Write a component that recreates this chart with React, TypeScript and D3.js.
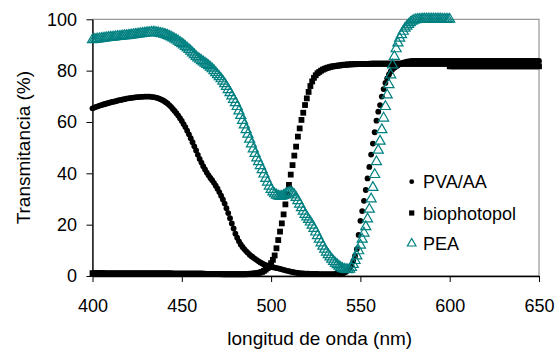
import React, { useEffect, useRef } from 'react';
import * as d3 from 'd3';

// Transmittance spectra, one value per nm starting at 400 nm
const WL_START = 400;

const PVA_AA = [
  65.3, 65.6, 65.9, 66.1, 66.4, 66.6, 66.8, 67.0, 67.2, 67.4,
  67.6, 67.8, 67.9, 68.1, 68.3, 68.5, 68.6, 68.8, 68.9, 69.1,
  69.2, 69.3, 69.4, 69.5, 69.6, 69.7, 69.7, 69.8, 69.8, 69.9,
  69.9, 69.9, 69.9, 69.8, 69.7, 69.6, 69.4, 69.2, 68.9, 68.6,
  68.2, 67.7, 67.2, 66.6, 65.9, 65.1, 64.3, 63.4, 62.5, 61.5,
  60.4, 59.2, 58.0, 56.6, 55.2, 53.7, 52.1, 50.5, 48.9, 47.2,
  45.6, 44.2, 42.8, 41.5, 40.3, 39.2, 38.2, 37.3, 36.3, 35.2,
  34.0, 32.7, 31.3, 29.8, 28.2, 26.4, 24.5, 22.5, 20.5, 18.5,
  16.5, 14.9, 13.5, 12.3, 11.3, 10.5, 9.7, 9.0, 8.3, 7.7,
  7.2, 6.7, 6.2, 5.7, 5.3, 4.9, 4.5, 4.2, 3.9, 3.7,
  3.5, 3.4, 3.3, 3.1, 3.0, 2.8, 2.6, 2.4, 2.2, 2.0,
  1.9, 1.7, 1.6, 1.4, 1.3, 1.2, 1.1, 1.0, 1.0, 0.9,
  0.9, 0.9, 0.8, 0.8, 0.8, 0.8, 0.8, 0.7, 0.7, 0.7,
  0.7, 0.7, 0.7, 0.7, 0.7, 0.7, 0.8, 0.8, 0.8, 0.9,
  1.0, 1.3, 1.7, 2.2, 3.0, 4.2, 5.8, 7.8, 10.5, 16.0,
  21.5, 25.3, 29.3, 33.5, 38.0, 42.5, 47.3, 51.6, 56.0, 60.5,
  64.0, 66.6, 69.9, 72.8, 75.2, 77.0, 78.5, 79.7, 80.5, 81.1,
  81.6, 82.1, 82.5, 82.8, 83.1, 83.3, 83.5, 83.6, 83.7, 83.8,
  83.8, 83.8, 83.8, 83.8, 83.8, 83.8, 83.8, 83.8, 83.8, 83.8,
  83.8, 83.8, 83.8, 83.8, 83.8, 83.8, 83.8, 83.8, 83.8, 83.8,
  83.8, 83.8, 83.8, 83.8, 83.8, 83.8, 83.8, 83.8, 83.8, 83.8,
  83.8, 83.8, 83.8, 83.8, 83.8, 83.8, 83.8, 83.8, 83.8, 83.8,
  83.8, 83.8, 83.8, 83.8, 83.8, 83.8, 83.8, 83.8, 83.8, 83.8,
  83.8, 83.8, 83.8, 83.8, 83.8, 83.8, 83.8, 83.8, 83.8, 83.8,
  83.8, 83.8, 83.8, 83.8, 83.8, 83.8, 83.8, 83.8, 83.8, 83.8,
  83.8,
];

const BIOPHOTOPOL = [
  1.1, 1.1, 1.1, 1.1, 1.1, 1.1, 1.1, 1.0, 1.0, 1.0,
  1.0, 1.0, 1.0, 1.0, 1.0, 1.0, 1.0, 1.0, 1.0, 1.0,
  1.0, 1.0, 1.0, 1.0, 1.0, 1.0, 1.0, 1.0, 1.0, 1.0,
  1.0, 1.0, 1.0, 1.0, 1.0, 1.0, 1.0, 1.0, 1.0, 1.0,
  1.0, 1.0, 1.0, 1.0, 1.0, 0.9, 0.9, 0.9, 0.9, 0.9,
  0.9, 0.9, 0.9, 0.9, 0.9, 0.9, 0.9, 0.9, 0.9, 0.9,
  0.9, 0.9, 0.9, 0.8, 0.8, 0.8, 0.8, 0.8, 0.8, 0.8,
  0.8, 0.8, 0.8, 0.7, 0.7, 0.7, 0.7, 0.7, 0.7, 0.7,
  0.7, 0.7, 0.7, 0.7, 0.7, 0.7, 0.7, 0.8, 0.8, 0.9,
  0.9, 1.0, 1.1, 1.2, 1.4, 1.6, 2.0, 2.5, 3.1, 4.0,
  5.0, 6.3, 8.0, 10.8, 14.0, 17.3, 20.5, 24.0, 27.9, 31.8,
  35.5, 39.5, 43.2, 46.9, 50.4, 54.3, 57.5, 60.8, 63.6, 66.6,
  69.2, 71.7, 74.0, 75.8, 77.2, 78.2, 79.0, 79.5, 80.0, 80.4,
  80.7, 81.0, 81.2, 81.4, 81.6, 81.7, 81.8, 81.9, 82.0, 82.1,
  82.2, 82.3, 82.3, 82.4, 82.4, 82.5, 82.5, 82.5, 82.6, 82.6,
  82.6, 82.6, 82.6, 82.6, 82.6, 82.6, 82.7, 82.7, 82.7, 82.7,
  82.7, 82.7, 82.7, 82.7, 82.7, 82.7, 82.7, 82.7, 82.7, 82.7,
  82.7, 82.7, 82.7, 82.7, 82.7, 82.7, 82.7, 82.7, 82.7, 82.7,
  82.7, 82.7, 82.7, 82.7, 82.7, 82.7, 82.7, 82.7, 82.7, 82.7,
  82.7, 82.7, 82.7, 82.7, 82.7, 82.7, 82.7, 82.7, 82.7, 82.7,
  81.7, 81.7, 81.7, 81.7, 81.7, 81.7, 81.7, 81.7, 81.7, 81.7,
  81.7, 81.7, 81.7, 81.7, 81.7, 81.7, 81.7, 81.7, 81.7, 81.7,
  81.7, 81.7, 81.7, 81.7, 81.7, 81.7, 81.7, 81.7, 81.7, 81.7,
  81.7, 81.7, 81.7, 81.7, 81.7, 81.7, 81.7, 81.7, 81.7, 81.7,
  81.7, 81.7, 81.7, 81.7, 81.7, 81.7, 81.7, 81.7, 81.7, 81.7,
  81.7,
];

const PEA = [
  92.0, 92.1, 92.2, 92.3, 92.4, 92.5, 92.6, 92.7, 92.8, 92.9,
  93.0, 93.0, 93.1, 93.2, 93.3, 93.3, 93.4, 93.5, 93.6, 93.6,
  93.7, 93.8, 93.9, 94.0, 94.1, 94.2, 94.3, 94.4, 94.5, 94.6,
  94.7, 94.8, 94.8, 94.9, 94.9, 94.9, 94.8, 94.7, 94.5, 94.4,
  94.2, 94.0, 93.7, 93.4, 93.1, 92.7, 92.3, 91.9, 91.5, 91.0,
  90.5, 90.0, 89.4, 88.8, 88.2, 87.6, 86.9, 86.2, 85.5, 84.9,
  84.4, 83.9, 83.4, 82.9, 82.4, 81.9, 81.3, 80.7, 80.0, 79.2,
  78.4, 77.6, 76.8, 75.9, 74.9, 73.8, 72.6, 71.4, 70.1, 68.8,
  67.5, 66.0, 64.3, 62.5, 60.6, 58.8, 57.0, 55.2, 53.3, 51.4,
  49.5, 47.7, 46.0, 44.5, 43.0, 41.4, 39.7, 38.0, 36.5, 35.0,
  33.7, 32.7, 32.0, 31.5, 31.2, 31.0, 31.1, 31.4, 31.8, 32.2,
  32.5, 32.6, 32.3, 31.6, 30.6, 29.3, 28.0, 26.6, 25.2, 24.0,
  23.0, 22.0, 21.0, 19.8, 18.5, 17.1, 15.7, 14.3, 12.9, 11.6,
  10.4, 9.3, 8.3, 7.4, 6.5, 5.7, 5.0, 4.4, 3.8, 3.3,
  2.9, 2.6, 2.5, 2.4, 2.6, 3.3, 4.5, 6.0, 7.8, 9.8,
  12.0, 14.3, 16.7, 19.2, 22.2, 26.0, 30.0, 34.5, 39.5, 44.5,
  49.0, 52.5, 57.0, 61.5, 66.0, 70.5, 74.5, 78.3, 82.2, 85.5,
  88.5, 90.8, 92.6, 94.0, 95.3, 96.5, 97.3, 98.0, 98.7, 99.2,
  99.6, 99.8, 99.9, 100.0, 100.0, 100.1, 100.1, 100.1, 100.1, 100.1,
  100.1, 100.1, 100.1, 100.1, 100.1, 100.1, 100.0, 100.0, 100.0, 100.0,
  100.0,
];

const X_TICKS = [400, 450, 500, 550, 600, 650];
const Y_TICKS = [0, 20, 40, 60, 80, 100];
const SERIES_LABELS = ['PVA/AA', 'biophotopol', 'PEA'];

const TEAL = '#008080';
const FONT = 'Arial, "Liberation Sans", sans-serif';

const App: React.FC = () => {
  const svgRef = useRef<SVGSVGElement>(null);

  useEffect(() => {
    if (!svgRef.current) return;
    const svg = d3.select(svgRef.current);
    svg.selectAll('*').remove();

    const x = d3.scaleLinear().domain([400, 650]).range([92.5, 539]);
    const y = d3.scaleLinear().domain([0, 100]).range([276, 19.3]);

    const toPoints = (vals: number[]) => vals.map((v, i) => ({ wl: WL_START + i, t: v }));

    // plot area frame (top / right in grey)
    svg.append('rect')
      .attr('x', x(400))
      .attr('y', y(100))
      .attr('width', x(650) - x(400))
      .attr('height', y(0) - y(100))
      .attr('fill', 'none')
      .attr('stroke', '#808080')
      .attr('stroke-width', 1);

    // Axes
    const yAxis = svg.append('g')
      .attr('transform', `translate(${x(400)},0)`)
      .call(d3.axisLeft(y).tickValues(Y_TICKS).tickSize(6).tickSizeOuter(0).tickPadding(9.5));
    const xAxis = svg.append('g')
      .attr('transform', `translate(0,${y(0)})`)
      .call(d3.axisBottom(x).tickValues(X_TICKS).tickSize(6).tickSizeOuter(0).tickPadding(17));

    [yAxis, xAxis].forEach(g => {
      g.select('.domain').attr('stroke', '#000').attr('stroke-width', 1.3);
      g.selectAll('.tick line').attr('stroke', '#000').attr('stroke-width', 1);
      g.selectAll('.tick text')
        .attr('fill', '#000')
        .style('font-family', FONT)
        .style('font-size', '18px');
    });

    // PVA/AA - filled circles
    svg.append('g')
      .selectAll('circle')
      .data(toPoints(PVA_AA))
      .enter()
      .append('circle')
      .attr('cx', d => x(d.wl))
      .attr('cy', d => y(d.t))
      .attr('r', 2.9)
      .attr('fill', '#000');

    // biophotopol - filled squares
    const sq = 5.8;
    svg.append('g')
      .selectAll('rect')
      .data(toPoints(BIOPHOTOPOL))
      .enter()
      .append('rect')
      .attr('x', d => x(d.wl) - sq / 2)
      .attr('y', d => y(d.t) - sq / 2)
      .attr('width', sq)
      .attr('height', sq)
      .attr('fill', '#000');

    // PEA - open teal triangles
    const tri = d3.symbol().type(d3.symbolTriangle).size(44);
    svg.append('g')
      .selectAll('path')
      .data(toPoints(PEA))
      .enter()
      .append('path')
      .attr('transform', d => `translate(${x(d.wl)},${y(d.t)})`)
      .attr('d', tri()!)
      .attr('fill', 'none')
      .attr('stroke', TEAL)
      .attr('stroke-width', 1.2);

    // Legend
    const legend = svg.append('g');
    const lx = 411.7;
    const rows = [181.7, 213, 243.5];
    legend.append('circle').attr('cx', lx).attr('cy', rows[0]).attr('r', 2.4).attr('fill', '#000');
    legend.append('rect').attr('x', lx - 2.6).attr('y', rows[1] - 2.6).attr('width', 5.2).attr('height', 5.2).attr('fill', '#000');
    legend.append('path')
      .attr('transform', `translate(${lx},${rows[2]})`)
      .attr('d', d3.symbol().type(d3.symbolTriangle).size(32)()!)
      .attr('fill', 'none')
      .attr('stroke', TEAL)
      .attr('stroke-width', 1.2);
    legend.selectAll('text')
      .data(SERIES_LABELS)
      .enter()
      .append('text')
      .attr('x', 423)
      .attr('y', (_, i) => rows[i] + 6.5)
      .style('font-family', FONT)
      .style('font-size', '18px')
      .attr('fill', '#000')
      .text(d => d);

    // Axis titles
    svg.append('text')
      .attr('x', (x(400) + x(650)) / 2 + 4)
      .attr('y', 345)
      .attr('text-anchor', 'middle')
      .style('font-family', FONT)
      .style('font-size', '19px')
      .attr('fill', '#000')
      .text('longitud de onda (nm)');

    svg.append('text')
      .attr('transform', `translate(30,${(y(0) + y(100)) / 2}) rotate(-90)`)
      .attr('text-anchor', 'middle')
      .style('font-family', FONT)
      .style('font-size', '19px')
      .attr('fill', '#000')
      .text('Transmitancia (%)');
  }, []);

  return (
    <svg
      ref={svgRef}
      width={557}
      height={349}
      style={{ position: 'absolute', left: 0, top: 0, background: '#fff' }}
    />
  );
};

export default App;
